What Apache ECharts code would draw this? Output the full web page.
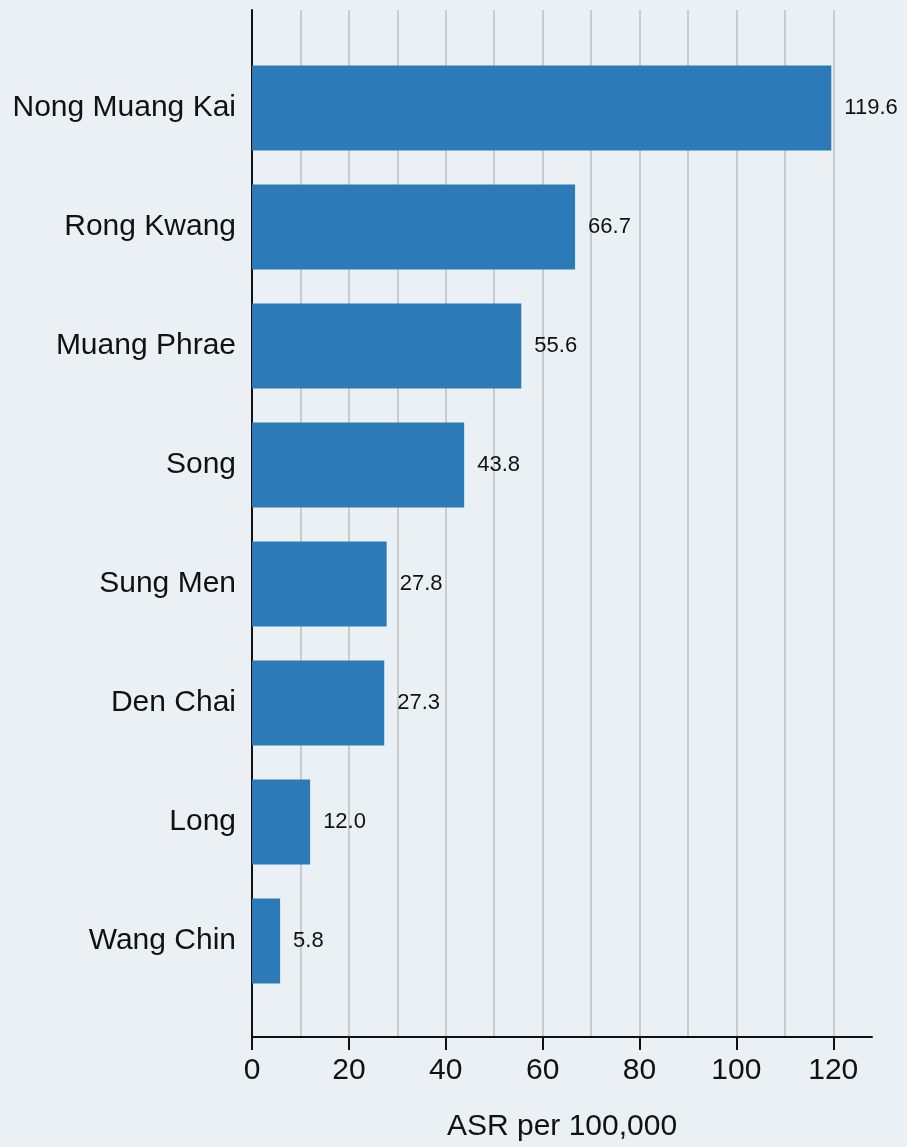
<!DOCTYPE html>
<html>
<head>
<meta charset="utf-8">
<script src="https://cdn.jsdelivr.net/npm/echarts@6/dist/echarts.min.js"></script>
<style>
html,body{margin:0;padding:0;background:#eaf0f3;}
#chart{width:907px;height:1147px;}
</style>
</head>
<body>
<div id="chart"></div>
<script>
const categories = ["Nong Muang Kai","Rong Kwang","Muang Phrae","Song","Sung Men","Den Chai","Long","Wang Chin"];
const values = [119.6, 66.7, 55.6, 43.8, 27.8, 27.3, 12.0, 5.8];
const xTicks = [0, 20, 40, 60, 80, 100, 120];
const axisTitle = "ASR per 100,000";

const FONT = "Liberation Sans, Arial, sans-serif";
const XMAX = 128;

const chart = echarts.init(document.getElementById('chart'));
chart.setOption({
  backgroundColor: '#eaf0f3',
  animation: false,
  grid: [
    {left: 252, right: 35, top: 10, bottom: 106},
    {left: 252, right: 35, top: 48.5, bottom: 146.5}
  ],
  xAxis: [
    { // gridlines every 10
      type: 'value', gridIndex: 0, min: 0, max: XMAX, interval: 10, position: 'top',
      axisLine: {show: false}, axisTick: {show: false}, axisLabel: {show: false},
      splitLine: {show: true, showMinLine: false, showMaxLine: false, lineStyle: {color: '#bfc3c5', width: 1.6}}
    },
    { // labelled axis
      type: 'value', gridIndex: 0, min: 0, max: XMAX, interval: 20, position: 'bottom',
      axisLine: {show: true, onZero: false, lineStyle: {color: '#111', width: 2}},
      axisTick: {show: true, length: 13, lineStyle: {color: '#111', width: 2}},
      axisLabel: {show: true, fontSize: 30, color: '#111', fontFamily: FONT, margin: 19,
        showMaxLabel: false,
        formatter: v => xTicks.indexOf(v) >= 0 ? String(v) : ''},
      splitLine: {show: false},
      name: axisTitle, nameLocation: 'middle', nameGap: 75,
      nameTextStyle: {fontSize: 30, color: '#111', fontFamily: FONT}
    },
    {
      type: 'value', gridIndex: 1, min: 0, max: XMAX, show: false
    }
  ],
  yAxis: [
    {
      type: 'value', gridIndex: 0, min: 0, max: 1,
      axisLine: {show: true, lineStyle: {color: '#111', width: 2}},
      axisTick: {show: false}, axisLabel: {show: false}, splitLine: {show: false}
    },
    {
      type: 'category', gridIndex: 1, data: categories, inverse: true,
      axisLine: {show: false}, axisTick: {show: false}, splitLine: {show: false},
      axisLabel: {fontSize: 30, color: '#111', fontFamily: FONT, margin: 16}
    }
  ],
  series: [{
    type: 'bar', xAxisIndex: 2, yAxisIndex: 1,
    data: values, barWidth: 85,
    itemStyle: {color: '#2d7ab8'},
    label: {show: true, position: 'right', distance: 13, fontSize: 22, color: '#111', fontFamily: FONT,
      formatter: p => p.value.toFixed(1)}
  }]
});
</script>
</body>
</html>
